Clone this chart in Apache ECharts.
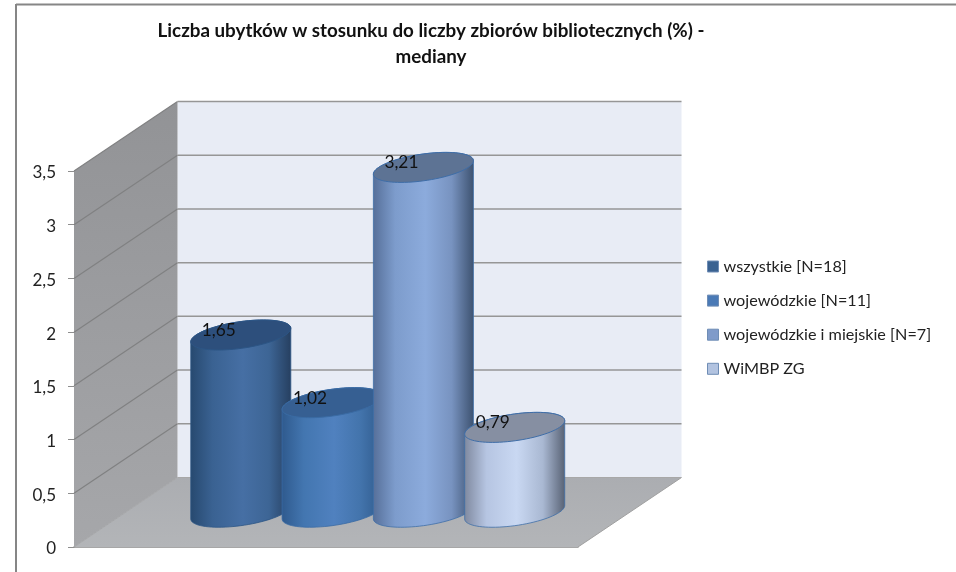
<!DOCTYPE html>
<html><head><meta charset="utf-8">
<style>html,body{margin:0;padding:0;background:#fff}#c{width:956px;height:572px}</style>
<script src="https://cdn.jsdelivr.net/npm/echarts@6/dist/echarts.min.js"></script>
</head><body><div id="c"></div>
<script>
const titleText = 'Liczba ubytków w stosunku do liczby zbiorów bibliotecznych (%) -\nmediany';
const seriesNames = ['wszystkie [N=18]', 'wojewódzkie [N=11]', 'wojewódzkie i miejskie [N=7]', 'WiMBP ZG'];
const seriesValues = [1.65, 1.02, 3.21, 0.79];
const yTicks = [0, 0.5, 1, 1.5, 2, 2.5, 3, 3.5];
const legendColors = ['#3a6291', '#4a7ab6', '#7f9bca', '#b2c3e0'];
const bodyStops = [
  ['#27496f', '#3a6292', '#466fa4', '#3d6595', '#263f60'],
  ['#2f5a8e', '#4376b0', '#5081bf', '#4374ac', '#2f5a8c'],
  ['#566f99', '#7d9ccc', '#8cabdc', '#7893c0', '#3d5270'],
  ['#7f899f', '#b6c5e2', '#c9d8f2', '#a9b8d2', '#586274']
];
const topColors = ['#2d4f7c', '#365f92', '#5d7394', '#868fa2'];
const edgeColors = ['#2c5585', '#3a6ba4', '#3f6ea8', '#3f6ea8'];

const FONT = 'Lato, "Open Sans", sans-serif';
const DEPTH = [103.5, -69.5];          // oblique projection of the chart depth
const XMIN = -1.26, XMAX = 4.26;
const YMAX = 3.5;

function shift(p, d) { return [p[0] + DEPTH[0] * d, p[1] + DEPTH[1] * d]; }

function renderWalls(params, api) {
  const f00 = api.coord([XMIN, 0]), f10 = api.coord([XMAX, 0]);
  const f01 = api.coord([XMIN, YMAX]);
  const b00 = shift(f00, 1), b10 = shift(f10, 1), b01 = shift(f01, 1);
  const b11 = [b10[0], b01[1]];
  const kids = [];
  kids.push({ type: 'polygon', shape: { points: [f00, f10, b10, b00] }, style: {
    fill: { type: 'linear', x: 0, y: 0, x2: 0, y2: 1, colorStops: [{ offset: 0, color: '#abadb1' }, { offset: 1, color: '#b3b5b8' }] } } });
  kids.push({ type: 'line', shape: { x1: f10[0], y1: f10[1], x2: b10[0], y2: b10[1] }, style: { stroke: '#a0a0a0', lineWidth: 1 } });
  kids.push({ type: 'polygon', shape: { points: [b00, b10, b11, b01] }, style: { fill: '#e8ecf5' } });
  kids.push({ type: 'polygon', shape: { points: [f00, b00, b01, f01] }, style: {
    fill: { type: 'linear', x: 0, y: 0, x2: 0, y2: 1, colorStops: [{ offset: 0, color: '#929396' }, { offset: 1, color: '#a6a7aa' }] } } });
  yTicks.forEach(function (v) {
    const a = api.coord([XMIN, v]), b = shift(a, 1), c = [b10[0], b[1]];
    if (v > 0) {
      kids.push({ type: 'line', shape: { x1: a[0], y1: a[1], x2: b[0], y2: b[1] }, style: { stroke: '#808182', lineWidth: 1.2 } });
    }
    kids.push({ type: 'line', shape: { x1: b[0], y1: b[1], x2: c[0], y2: c[1] }, style: { stroke: v > 0 ? '#969696' : '#a8a8a8', lineWidth: v > 0 ? 1.5 : 1 } });
  });
  kids.push({ type: 'line', shape: { x1: f00[0], y1: f00[1], x2: b00[0], y2: b00[1] }, style: { stroke: '#a5a6a8', lineWidth: 1 } });
  return { type: 'group', children: kids };
}

function ellipsePts(c, R, t0, t1, n) {
  const a = DEPTH[0] * 0.216, b = DEPTH[1] * 0.216, pts = [];
  for (let i = 0; i <= n; i++) {
    const t = t0 + (t1 - t0) * i / n;
    pts.push([c[0] + R * Math.cos(t) + a * Math.sin(t), c[1] + b * Math.sin(t)]);
  }
  return pts;
}

function makeRender(idx) {
  return function (params, api) {
    const x = api.value(0), v = api.value(1);
    const top = shift(api.coord([x, v]), 0.5), base = shift(api.coord([x, 0]), 0.5);
    const R = api.size([1, 0])[0] * 0.49;
    const a = DEPTH[0] * 0.216;
    const tx = Math.atan2(a, R);                  // parameter of the right silhouette point
    const topBack = ellipsePts(top, R, tx, tx + Math.PI, 40);
    const baseFront = ellipsePts(base, R, tx + Math.PI, tx + 2 * Math.PI, 40);
    const s = bodyStops[idx];
    const body = { type: 'polygon', shape: { points: topBack.concat(baseFront) }, style: {
      fill: { type: 'linear', x: 0, y: 0, x2: 1, y2: 0, colorStops: [
        { offset: 0, color: s[0] }, { offset: 0.22, color: s[1] }, { offset: 0.52, color: s[2] },
        { offset: 0.78, color: s[3] }, { offset: 1, color: s[4] }] },
      stroke: edgeColors[idx], lineWidth: 0.8 } };
    const cap = { type: 'polygon', shape: { points: ellipsePts(top, R, 0, 2 * Math.PI, 80) }, style: {
      fill: topColors[idx], stroke: edgeColors[idx], lineWidth: 1 } };
    const label = { type: 'text', z2: 100, style: {
      text: String(v).replace('.', ','), x: top[0] - 22, y: top[1] - 4.5,
      align: 'center', verticalAlign: 'middle', fill: '#111', font: '17.3px ' + FONT } };
    return { type: 'group', children: [body, cap, label] };
  };
}

const chart = echarts.init(document.getElementById('c'), null, { renderer: 'canvas' });
const series = [{
  type: 'custom', name: '__walls', silent: true, z: 1,
  coordinateSystem: 'cartesian2d', data: [[0, 0]], renderItem: renderWalls, clip: false
}];
seriesNames.forEach(function (name, i) {
  series.push({
    type: 'custom', name: name, z: 2 + i, clip: false, coordinateSystem: 'cartesian2d',
    itemStyle: { color: legendColors[i] },
    data: [[i, seriesValues[i]]], renderItem: makeRender(i)
  });
});

chart.setOption({
  animation: false,
  backgroundColor: '#fff',
  title: {
    text: titleText, left: 426, top: 13, textAlign: 'center',
    textStyle: { fontFamily: FONT, fontSize: 18.8, fontWeight: 'bold', color: '#111', lineHeight: 26 }
  },
  legend: {
    data: seriesNames.map(function (n) { return { name: n, icon: 'rect', itemStyle: { borderColor: '#6f8db5', borderWidth: 1 } }; }),
    orient: 'vertical', left: 702, top: 253.5, itemWidth: 11, itemHeight: 11, itemGap: 18.1,
    selectedMode: false,
    textStyle: { fontFamily: FONT, fontSize: 16.2, color: '#222' }
  },
  grid: { left: 74, top: 171, width: 504, height: 376, containLabel: false },
  xAxis: {
    type: 'value', min: XMIN, max: XMAX, splitLine: { show: false },
    axisTick: { show: false }, axisLabel: { show: false },
    axisLine: { show: true, onZero: false, lineStyle: { color: '#8a8a8a', width: 1.5 } }
  },
  yAxis: {
    type: 'value', min: 0, max: YMAX, interval: 0.5, splitLine: { show: false },
    axisLine: { show: true, onZero: false, lineStyle: { color: '#8e8e8e', width: 1 } },
    axisTick: { show: true, length: 6, lineStyle: { color: '#8e8e8e', width: 1 } },
    axisLabel: {
      margin: 18, color: '#222', fontFamily: FONT, fontSize: 17,
      rich: { t: { color: '#222', fontFamily: FONT, fontSize: 17, padding: [4, 0, 0, 0] } },
      formatter: function (v) { return '{t|' + String(v).replace('.', ',') + '}'; }
    }
  },
  graphic: [
    { type: 'line', shape: { x1: 16, y1: 4.5, x2: 956, y2: 4.5 }, style: { stroke: '#868686', lineWidth: 2 }, silent: true },
    { type: 'line', shape: { x1: 16, y1: 4, x2: 16, y2: 572 }, style: { stroke: '#868686', lineWidth: 2 }, silent: true }
  ],
  series: series
});
</script></body></html>
